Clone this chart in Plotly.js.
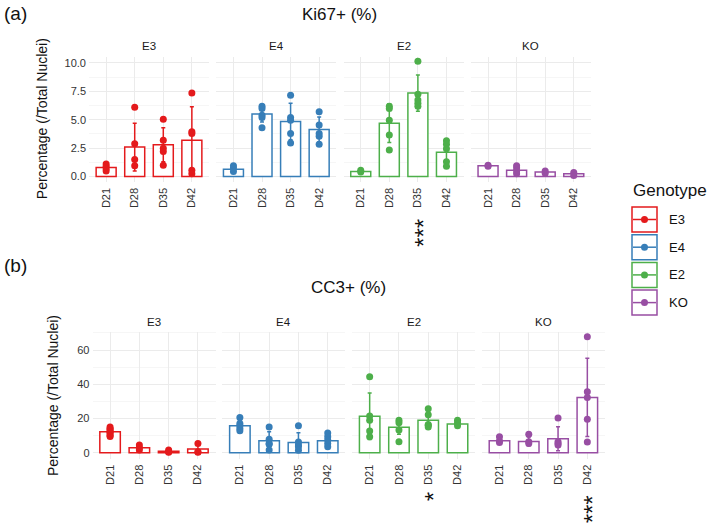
<!DOCTYPE html>
<html>
<head>
<meta charset="utf-8">
<script src="https://cdn.plot.ly/plotly-3.0.1.min.js"></script>
<style>
  body { margin: 0; background: #fff; }
  #chart { width: 709px; height: 526px; }
</style>
</head>
<body>
<div id="chart"></div>
<script>
const timepoints = ["D21", "D28", "D35", "D42"];
const genotypes = ["E3", "E4", "E2", "KO"];

// Ki67+ (%) - rows follow genotypes, columns follow timepoints
const ki67Mean = [
  [0.8, 2.6, 2.8, 3.2],
  [0.65, 5.5, 4.85, 4.15],
  [0.45, 4.7, 7.35, 2.15],
  [0.95, 0.55, 0.4, 0.25]
];
const ki67Sd = [
  [0.25, 2.1, 1.5, 2.95],
  [0.2, 0.7, 1.6, 1.1],
  [0.1, 1.7, 1.6, 1.0],
  [0.05, 0.3, 0.1, 0.1]
];
const ki67Points = [
  [[1.1, 0.9, 0.7, 0.5], [6.1, 2.9, 1.5, 0.95], [5.05, 3.2, 2.5, 2.2, 1.0], [7.35, 3.95, 3.8, 0.55, 0.25]],
  [[0.95, 0.75, 0.45], [6.2, 6.0, 5.4, 5.2, 4.3], [7.15, 5.2, 4.95, 3.8, 2.95], [5.7, 4.55, 3.8, 3.55, 2.85]],
  [[0.55, 0.4], [6.2, 6.0, 4.95, 3.65, 2.35], [10.15, 7.25, 6.75, 6.45, 6.2], [3.15, 2.85, 2.45, 1.3, 0.9]],
  [[1.0, 0.9], [0.95, 0.75, 0.5, 0.25], [0.5, 0.3], [0.35, 0.1]]
];

// CC3+ (%)
const cc3Mean = [
  [12.2, 2.9, 0.8, 2.1],
  [15.8, 7.0, 6.0, 7.0],
  [21.3, 14.8, 18.9, 16.8],
  [7.0, 6.6, 8.2, 32.3]
];
const cc3Sd = [
  [2.0, 1.5, 0.7, 2.9],
  [3.2, 5.2, 5.6, 3.2],
  [13.6, 4.0, 4.0, 1.6],
  [1.6, 2.5, 7.0, 22.9]
];
const cc3Points = [
  [[15, 14, 13.5, 12.5, 12, 11, 10, 9.5], [4.5, 2.9, 1.5], [1.6, 0.6, 0.2], [5.3, 0.6, 0.3]],
  [[20.5, 17, 15.7, 14.2, 12.8], [15, 7.8, 5.4, 5.0, 1.5], [15.7, 6.3, 4.5, 3.5, 1.4], [11.5, 9.3, 7.4, 5.4, 3.5]],
  [[44.4, 21.5, 19, 12.6, 9.3], [19, 17.5, 13.2, 6.4], [25.7, 22.2, 16.5, 16, 15], [19, 17.5, 15.8]],
  [[9.3, 6.8, 6.0], [10.7, 6.4, 5.4], [20.3, 6.4, 5.4, 4.5], [67.8, 35.6, 32.3, 19.5, 6.2]]
];

// significance marks shown under the tick labels (cy = pixel centre)
const ki67Stars = [{ genotype: "E2", time: "D35", text: "***", cy: 233 }];
const cc3Stars = [
  { genotype: "E2", time: "D35", text: "*", cy: 497 },
  { genotype: "KO", time: "D42", text: "***", cy: 509 }
];

const colors = ["#e41a1c", "#377eb8", "#4daf4a", "#984ea3"];
const W = 709, H = 526;
const FONT = "Liberation Sans, Arial, sans-serif";
const fx = p => p / W;
const fy = p => 1 - p / H;

const panels = [
  {
    mean: ki67Mean, sd: ki67Sd, pts: ki67Points, stars: ki67Stars,
    title: "Ki67+ (%)", tag: "(a)",
    left: 89, width: 120, pitch: 127.3, top: 56.7, bottom: 181.7,
    range: [-0.45, 10.55], dtick: 2.5, minor: 1.25, fmt: ".1f",
    titleY: 15, tagY: 13, stripY: 46, ytitleX: 42
  },
  {
    mean: cc3Mean, sd: cc3Sd, pts: cc3Points, stars: cc3Stars,
    title: "CC3+ (%)", tag: "(b)",
    left: 92.5, width: 123, pitch: 129.8, top: 331.7, bottom: 458.5,
    range: [-3.4, 70.7], dtick: 20, minor: 10, fmt: "d",
    titleY: 287, tagY: 265, stripY: 321.5, ytitleX: 53
  }
];

const traces = [];
const layout = {
  width: W, height: H,
  margin: { l: 0, r: 0, t: 0, b: 0 },
  paper_bgcolor: "#ffffff",
  plot_bgcolor: "#ffffff",
  showlegend: false,
  font: { family: FONT, color: "#222" },
  annotations: [],
  shapes: []
};

panels.forEach(function (p, pi) {
  const ya = pi === 0 ? "y" : "y2";
  const yKey = pi === 0 ? "yaxis" : "yaxis2";
  const firstX = "x" + (pi * 4 + 1 === 1 ? "" : pi * 4 + 1);

  layout[yKey] = {
    domain: [fy(p.bottom), fy(p.top)],
    anchor: firstX,
    range: p.range,
    tick0: 0, dtick: p.dtick, tickformat: p.fmt,
    showgrid: true, gridcolor: "#ebebeb", gridwidth: 1,
    minor: { dtick: p.minor, showgrid: true, gridcolor: "#f0f0f0", gridwidth: 0.6 },
    zeroline: false, showline: false, ticks: "",
    ticklabelstandoff: 2,
    tickfont: { family: FONT, size: 11, color: "#333" },
    fixedrange: true
  };

  genotypes.forEach(function (g, gi) {
    const n = pi * 4 + gi + 1;
    const xa = n === 1 ? "x" : "x" + n;
    const xKey = n === 1 ? "xaxis" : "xaxis" + n;
    const x0 = p.left + gi * p.pitch;

    layout[xKey] = {
      domain: [fx(x0), fx(x0 + p.width)],
      anchor: ya,
      type: "category",
      categoryorder: "array", categoryarray: timepoints,
      range: [-0.6, 3.6],
      tickangle: -90,
      showgrid: true, gridcolor: "#ebebeb", gridwidth: 1,
      zeroline: false, showline: false, ticks: "",
      ticklabelstandoff: 3,
      tickfont: { family: FONT, size: 11, color: "#333" },
      fixedrange: true
    };

    traces.push({
      type: "bar",
      x: timepoints,
      y: p.mean[gi],
      xaxis: xa, yaxis: ya,
      width: 0.7,
      marker: { color: "rgba(255,255,255,1)", line: { color: colors[gi], width: 1.5 } },
      error_y: { type: "data", array: p.sd[gi], visible: true, color: colors[gi], thickness: 1.5, width: 2 },
      hoverinfo: "y"
    });

    const px = [], py = [];
    p.pts[gi].forEach(function (vals, ti) {
      vals.forEach(function (v) { px.push(timepoints[ti]); py.push(v); });
    });
    traces.push({
      type: "scatter", mode: "markers",
      x: px, y: py,
      xaxis: xa, yaxis: ya,
      marker: { color: colors[gi], size: 7 },
      hoverinfo: "y"
    });

    // facet strip label
    layout.annotations.push({
      text: g, xref: "paper", yref: "paper",
      x: fx(x0 + p.width / 2), y: fy(p.stripY),
      xanchor: "center", yanchor: "middle", showarrow: false,
      font: { family: FONT, size: 11.5, color: "#1a1a1a" }
    });
  });

  // panel title and tag
  layout.annotations.push({
    text: p.title, xref: "paper", yref: "paper",
    x: fx(p.left + (3 * p.pitch + p.width) / 2), y: fy(p.titleY),
    xanchor: "center", yanchor: "middle", showarrow: false,
    font: { family: FONT, size: 17, color: "#111" }
  });
  layout.annotations.push({
    text: p.tag, xref: "paper", yref: "paper",
    x: fx(2), y: fy(p.tagY),
    xanchor: "left", yanchor: "middle", showarrow: false,
    font: { family: FONT, size: 19, color: "#111" }
  });
  // y axis title
  layout.annotations.push({
    text: "Percentage (/Total Nuclei)", xref: "paper", yref: "paper",
    x: fx(p.ytitleX), y: fy((p.top + p.bottom) / 2),
    xanchor: "center", yanchor: "middle", showarrow: false, textangle: -90,
    font: { family: FONT, size: 14, color: "#111" }
  });
  // significance stars
  p.stars.forEach(function (s) {
    const n = pi * 4 + genotypes.indexOf(s.genotype) + 1;
    layout.annotations.push({
      text: s.text, xref: n === 1 ? "x" : "x" + n, yref: "paper",
      x: s.time, y: fy(s.cy),
      xanchor: "center", yanchor: "middle", showarrow: false, textangle: -90,
      xshift: 5,
      font: { family: FONT, size: 24, color: "#111" }
    });
  });
});

// legend (drawn by hand to match the boxed keys)
layout.annotations.push({
  text: "Genotype", xref: "paper", yref: "paper",
  x: fx(631), y: fy(190), xanchor: "left", yanchor: "middle", showarrow: false,
  font: { family: FONT, size: 17, color: "#111" }
});
genotypes.forEach(function (g, gi) {
  const cy = 219.5 + gi * 27.7;
  layout.shapes.push({
    type: "rect", xref: "paper", yref: "paper",
    x0: fx(632), x1: fx(657), y0: fy(cy + 12.5), y1: fy(cy - 12.5),
    line: { color: colors[gi], width: 1.5 }, fillcolor: "#ffffff"
  });
  layout.shapes.push({
    type: "line", xref: "paper", yref: "paper",
    x0: fx(633), x1: fx(656), y0: fy(cy), y1: fy(cy),
    line: { color: colors[gi], width: 1.5 }
  });
  layout.shapes.push({
    type: "circle", xref: "paper", yref: "paper",
    x0: fx(641), x1: fx(648), y0: fy(cy + 3.5), y1: fy(cy - 3.5),
    line: { color: colors[gi], width: 0 }, fillcolor: colors[gi]
  });
  layout.annotations.push({
    text: g, xref: "paper", yref: "paper",
    x: fx(667), y: fy(cy), xanchor: "left", yanchor: "middle", showarrow: false,
    font: { family: FONT, size: 13, color: "#111" }
  });
});

Plotly.newPlot("chart", traces, layout, { displayModeBar: false, staticPlot: true });
</script>
</body>
</html>
